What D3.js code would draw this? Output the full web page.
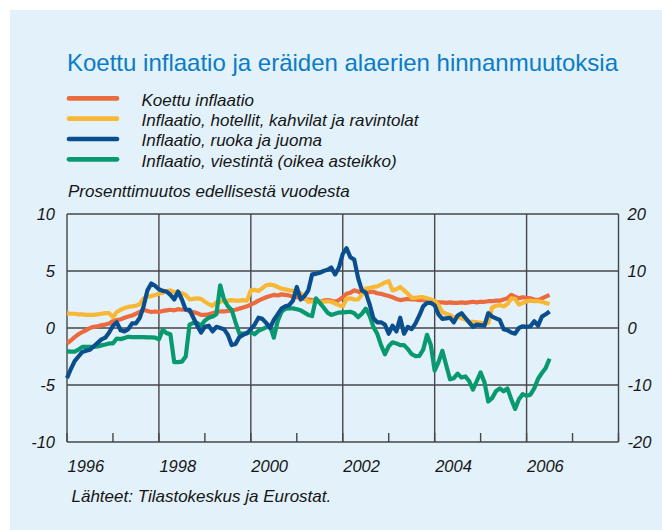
<!DOCTYPE html>
<html><head><meta charset="utf-8">
<script src="https://cdn.jsdelivr.net/npm/d3@7"></script>
<style>
body{margin:0;background:#fff}
svg{display:block}
text{font-family:"Liberation Sans",Arial,Helvetica,sans-serif}
</style>
</head><body>
<svg id="chart" width="662" height="530"></svg>
<script>
// ---------- data ----------
const titleText = "Koettu inflaatio ja eräiden alaerien hinnanmuutoksia";
const subtitleText = "Prosenttimuutos edellisestä vuodesta";
const sourceText = "Lähteet: Tilastokeskus ja Eurostat.";
const seriesNames = [
  "Koettu inflaatio",
  "Inflaatio, hotellit, kahvilat ja ravintolat",
  "Inflaatio, ruoka ja juoma",
  "Inflaatio, viestintä (oikea asteikko)"
];
const seriesColors = ["#EC6B3E", "#F8B735", "#0B4E8E", "#08996F"];
const leftTicks = [-10, -5, 0, 5, 10];
const rightTicks = [-20, -10, 0, 10, 20];
const yearLabels = [1996, 1998, 2000, 2002, 2004, 2006];
const startYear = 1996; // monthly data from January 1996

const koettu = [
 -1.34,-1.1,-0.8,-0.55,-0.35,-0.2,0.0,0.1,0.15,0.25,0.3,0.4,
 0.6,0.7,0.75,0.9,1.0,1.1,1.25,1.4,1.6,1.5,1.4,1.45,
 1.4,1.5,1.55,1.6,1.55,1.65,1.6,1.65,1.45,1.4,1.3,1.15,
 1.15,1.2,1.3,1.4,1.45,1.45,1.5,1.55,1.6,1.7,1.8,1.9,
 2.05,2.2,2.4,2.55,2.7,2.8,2.9,2.85,2.95,2.9,2.85,2.75,
 2.7,2.65,2.55,2.5,2.45,2.4,2.3,2.4,2.45,2.4,2.3,2.45,
 2.7,3.0,3.1,3.3,3.2,3.05,3.1,3.15,3.18,3.05,3.0,2.9,
 2.8,2.7,2.55,2.45,2.5,2.55,2.5,2.5,2.45,2.45,2.45,2.4,
 2.3,2.25,2.25,2.2,2.25,2.2,2.2,2.25,2.2,2.25,2.3,2.25,
 2.3,2.3,2.35,2.35,2.4,2.4,2.5,2.6,2.9,2.75,2.6,2.7,
 2.65,2.6,2.5,2.45,2.6,2.75,2.9
];
const hotellit = [
 1.3,1.25,1.25,1.2,1.2,1.15,1.15,1.15,1.2,1.25,1.3,1.3,
 0.95,1.4,1.6,1.75,1.85,1.9,1.95,2.1,2.6,2.75,2.8,2.9,
 3.0,3.1,3.2,3.3,3.15,3.1,3.05,2.9,2.5,2.55,2.6,2.55,
 2.3,2.1,1.95,2.25,2.3,2.35,2.4,2.45,2.4,2.4,2.45,2.4,
 3.3,3.35,3.25,3.5,3.75,3.8,3.75,3.6,3.45,3.4,3.3,3.25,
 3.1,3.05,2.7,2.3,2.35,2.3,2.3,2.3,2.35,2.3,2.15,2.0,
 1.9,2.55,2.6,2.5,2.5,2.9,3.45,3.5,3.6,3.65,3.8,4.0,
 4.1,3.3,3.4,3.6,3.3,3.0,2.65,2.65,2.7,2.7,2.6,2.5,
 2.4,2.0,1.4,1.25,1.15,0.9,1.0,0.85,0.75,0.55,0.55,0.5,
 0.45,0.4,0.45,1.8,1.95,2.0,1.9,2.1,2.6,2.55,2.05,2.2,
 2.35,2.4,2.35,2.35,2.3,2.2,2.1
];
const ruoka = [
 -4.4,-3.6,-2.9,-2.5,-2.1,-2.0,-1.9,-1.6,-1.3,-1.0,-0.85,-0.4,
 0.2,0.5,-0.2,-0.3,-0.1,0.4,0.4,0.9,1.9,3.3,3.9,3.7,
 3.4,3.25,3.2,2.9,2.5,3.2,2.5,1.6,1.6,0.9,0.2,-0.4,
 0.1,0.2,-0.3,0.1,0.0,-0.1,-0.6,-1.5,-1.4,-0.8,-0.6,-0.45,
 -0.1,0.3,0.9,0.8,0.45,0.0,0.7,1.2,1.7,1.9,2.0,2.4,
 3.6,2.5,2.8,3.3,4.7,4.75,4.85,5.0,5.1,5.3,4.7,5.3,
 6.5,7.0,6.2,6.0,4.4,3.3,3.1,2.1,0.85,0.5,0.5,0.3,
 -0.5,0.2,-0.3,0.9,-0.5,0.1,-0.1,0.4,1.1,1.9,2.2,2.2,
 2.0,1.2,0.8,0.85,0.9,0.5,1.1,1.3,0.9,0.5,0.1,0.3,
 0.25,0.2,1.3,1.0,0.85,0.7,-0.1,-0.2,-0.4,-0.5,0.0,0.15,
 0.1,0.15,0.6,0.2,1.0,1.2,1.45
];
const viestinta = [
 -4.1,-4.15,-4.15,-3.8,-3.3,-3.3,-3.3,-3.3,-3.25,-3.05,-2.9,-2.7,
 -2.7,-1.85,-1.95,-1.75,-1.55,-1.6,-1.6,-1.6,-1.6,-1.65,-1.65,-1.7,
 -2.0,-0.3,-0.9,-1.1,-6.0,-6.0,-5.9,-5.0,0.6,0.9,0.9,0.4,
 1.3,1.8,2.0,2.4,7.5,5.0,3.8,3.16,1.0,-1.0,-1.0,-0.9,
 -0.7,-1.1,-0.5,-0.2,0.1,0.4,-1.7,1.2,2.8,3.4,3.45,3.45,
 3.3,3.1,2.7,2.3,2.1,5.2,4.4,3.6,2.7,2.3,2.5,2.7,
 2.75,2.8,2.85,2.6,1.9,2.5,3.4,2.2,0.2,-1.0,-3.0,-4.6,
 -3.2,-2.5,-2.7,-3.0,-3.0,-3.7,-4.6,-4.95,-4.9,-3.8,-1.2,-3.0,
 -7.5,-6.0,-4.0,-6.5,-9.0,-8.8,-8.0,-8.7,-8.5,-9.3,-10.8,-9.3,
 -7.8,-9.5,-12.9,-12.3,-11.1,-10.6,-11.1,-10.6,-12.5,-14.2,-12.5,-11.6,
 -11.9,-11.7,-10.6,-8.9,-7.9,-7.0,-5.4
];

// ---------- layout ----------
const svg = d3.select("#chart");
const W = 662, H = 530;
const plot = {left: 67, right: 618.5, top: 214, bottom: 442};

svg.append("rect").attr("x", 10).attr("y", 10).attr("width", W - 10).attr("height", H - 10)
  .attr("fill", "#E2F1FA");

const x = d3.scaleLinear().domain([1996, 2008]).range([plot.left, plot.right]);
const yL = d3.scaleLinear().domain([-10, 10]).range([plot.bottom, plot.top]);
const yR = d3.scaleLinear().domain([-20, 20]).range([plot.bottom, plot.top]);

// title
svg.append("text").attr("x", 67).attr("y", 70.5)
  .attr("fill", "#0B7CC6").style("font-size", "24px").text(titleText);

// legend
const legendY0 = 105.7, legendDy = 20.3;
seriesNames.forEach((name, i) => {
  const by = legendY0 + i * legendDy;
  svg.append("line").attr("x1", 69).attr("x2", 117)
    .attr("y1", by - 7.3).attr("y2", by - 7.3)
    .attr("stroke", seriesColors[i]).attr("stroke-width", 4.7).attr("stroke-linecap", "round");
  svg.append("text").attr("x", 141.5).attr("y", by)
    .style("font-size", "17px").style("font-style", "italic").attr("fill", "#151515").text(name);
});

// subtitle
svg.append("text").attr("x", 68).attr("y", 196.8)
  .style("font-size", "17px").style("font-style", "italic").attr("fill", "#151515").text(subtitleText);

// gridlines
const g = svg.append("g");
const gridColor = "#464646";
g.selectAll("line.h").data(leftTicks).join("line")
  .attr("x1", plot.left).attr("x2", plot.right)
  .attr("y1", d => yL(d)).attr("y2", d => yL(d))
  .attr("stroke", gridColor).attr("stroke-width", 1.4);
const vYears = d3.range(1996, 2009, 2);
g.selectAll("line.v").data(vYears).join("line")
  .attr("x1", d => x(d)).attr("x2", d => x(d))
  .attr("y1", plot.top).attr("y2", plot.bottom)
  .attr("stroke", gridColor).attr("stroke-width", 1.4);
// yearly tick marks at bottom
const tickYears = d3.range(1996, 2009, 1);
g.selectAll("line.t").data(tickYears).join("line")
  .attr("x1", d => x(d)).attr("x2", d => x(d))
  .attr("y1", plot.bottom).attr("y2", plot.bottom - 9)
  .attr("stroke", gridColor).attr("stroke-width", 1.4);

// axis labels
const labelStyle = sel => sel.style("font-size", "16.5px").style("font-style", "italic").attr("fill", "#151515");
svg.append("g").selectAll("text").data(leftTicks).join("text")
  .attr("x", 55).attr("y", d => yL(d)).attr("dy", "0.36em").attr("text-anchor", "end")
  .call(labelStyle).text(d => d);
svg.append("g").selectAll("text").data(rightTicks).join("text")
  .attr("x", 627.5).attr("y", d => yR(d)).attr("dy", "0.36em").attr("text-anchor", "start")
  .call(labelStyle).text(d => d);
svg.append("g").selectAll("text").data(yearLabels).join("text")
  .attr("x", d => x(d) + 0.5).attr("y", 472).attr("text-anchor", "start")
  .call(labelStyle).text(d => d);

// lines
const monthX = i => x(startYear + i / 12);
const lineL = d3.line().x((d, i) => monthX(i)).y(d => yL(d));
const lineR = d3.line().x((d, i) => monthX(i)).y(d => yR(d));
const series = [
  {data: koettu, gen: lineL, color: seriesColors[0]},
  {data: hotellit, gen: lineL, color: seriesColors[1]},
  {data: viestinta, gen: lineR, color: seriesColors[3]},
  {data: ruoka, gen: lineL, color: seriesColors[2]}
];
series.forEach(s => {
  svg.append("path").attr("d", s.gen(s.data)).attr("fill", "none")
    .attr("stroke", s.color).attr("stroke-width", 4.2).attr("stroke-linejoin", "round");
});

// source
svg.append("text").attr("x", 71.5).attr("y", 502)
  .style("font-size", "17px").style("font-style", "italic").attr("fill", "#151515").text(sourceText);
</script>
</body></html>
